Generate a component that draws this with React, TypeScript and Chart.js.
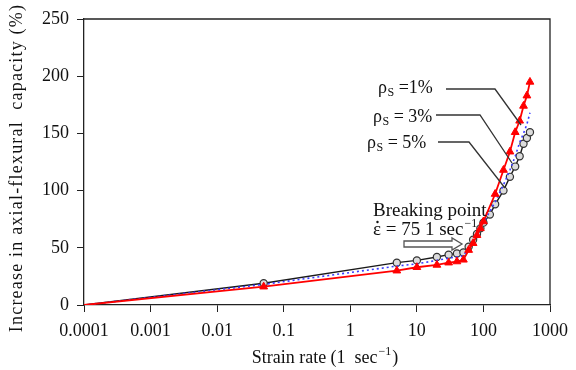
import React, { useEffect, useRef } from "react";
import { Chart, registerables } from "chart.js";

Chart.register(...registerables);

const xTickValues = [0.0001, 0.001, 0.01, 0.1, 1, 10, 100, 1000];
const yTickValues = [0, 50, 100, 150, 200, 250];

const rho1X = [0.0001, 0.05, 5, 10, 20, 30, 40, 50, 60, 70, 80, 90, 100, 150, 200, 250, 300, 350, 400, 450, 500];
const rho1Y = [0, 16, 30, 33, 35, 37, 38, 39.5, 48, 54, 61, 67, 73, 97, 118, 134, 151, 161, 174, 183, 195];

const rho3X = [0.0001, 0.05, 5, 10, 20, 30, 40, 50, 60, 70, 80, 90, 100, 150, 200, 250, 300, 350, 400, 450, 500];
const rho3Y = [0, 18, 34, 36, 39, 41, 42, 43, 50, 56, 62, 67, 72, 90, 105, 118, 130, 142, 150, 158, 168];

const rho5X = [0.0001, 0.05, 5, 10, 20, 30, 40, 50, 60, 70, 80, 90, 100, 125, 150, 200, 250, 300, 350, 400, 450, 500];
const rho5Y = [0, 19, 37, 39, 42, 44, 45, 46, 51, 57, 62, 67, 72, 79, 88, 100, 112, 121, 130, 141, 146, 151];

const seriesLabels = ["1%", "3%", "5%"];
const yTitle = "Increase in axial-flexural  capacity (%)";
const xTitle = "Strain rate (1  sec";
const breakTitle = "Breaking point";
const breakSymbol = "ε";
const breakValue = " = 75 1 sec";

const SERIF = '"Liberation Serif", "Times New Roman", serif';

const toPoints = (xs: number[], ys: number[]) => xs.map((x, i) => ({ x, y: ys[i] }));

const annotationPlugin = {
  id: "annot",
  afterDraw(chart: any) {
    const ctx: CanvasRenderingContext2D = chart.ctx;
    const a = chart.chartArea;
    ctx.save();
    // box top & right
    ctx.strokeStyle = "#222";
    ctx.lineWidth = 1.3;
    ctx.beginPath();
    ctx.moveTo(a.left, a.top);
    ctx.lineTo(a.right, a.top);
    ctx.lineTo(a.right, a.bottom);
    ctx.stroke();

    // leader lines
    ctx.strokeStyle = "#333";
    ctx.lineWidth = 1.3;
    const leaders = [
      [[446, 89], [495, 89], [521, 125]],
      [[436, 115], [480, 115], [512, 163]],
      [[438, 142], [469, 142], [505, 188]],
    ];
    leaders.forEach((pts) => {
      ctx.beginPath();
      ctx.moveTo(pts[0][0], pts[0][1]);
      ctx.lineTo(pts[1][0], pts[1][1]);
      ctx.lineTo(pts[2][0], pts[2][1]);
      ctx.stroke();
    });

    // rho labels
    ctx.fillStyle = "#111";
    ctx.textBaseline = "alphabetic";
    ctx.textAlign = "left";
    const labelPos = [
      [378, 93, " =" + seriesLabels[0]],
      [373, 122, " = " + seriesLabels[1]],
      [367, 148, " = " + seriesLabels[2]],
    ];
    labelPos.forEach(([x, y, rest]: any) => {
      ctx.font = `18px ${SERIF}`;
      ctx.fillText("ρ", x, y);
      let cx = x + ctx.measureText("ρ").width + 0.5;
      ctx.font = `12px ${SERIF}`;
      ctx.fillText("S", cx, y + 3);
      cx += ctx.measureText("S").width;
      ctx.font = `18px ${SERIF}`;
      ctx.fillText(rest, cx, y);
    });

    // breaking point
    ctx.font = `19px ${SERIF}`;
    ctx.fillText(breakTitle, 373, 216);
    ctx.fillText(breakSymbol, 373, 235);
    const ew = ctx.measureText(breakSymbol).width;
    ctx.beginPath();
    ctx.arc(373 + ew / 2 + 0.5, 222, 1.2, 0, Math.PI * 2);
    ctx.fill();
    ctx.fillText(breakValue, 373 + ew, 235);
    const w = ctx.measureText(breakValue).width;
    ctx.font = `12px ${SERIF}`;
    ctx.fillText("−1", 373 + ew + w + 1, 227);

    // hollow arrow
    ctx.strokeStyle = "#555";
    ctx.fillStyle = "#fff";
    ctx.lineWidth = 1.3;
    ctx.beginPath();
    ctx.moveTo(404, 241);
    ctx.lineTo(452, 241);
    ctx.lineTo(452, 238);
    ctx.lineTo(462, 244);
    ctx.lineTo(452, 250);
    ctx.lineTo(452, 247);
    ctx.lineTo(404, 247);
    ctx.closePath();
    ctx.fill();
    ctx.stroke();

    // axis titles
    ctx.fillStyle = "#111";
    ctx.font = `18px ${SERIF}`;
    ctx.textAlign = "left";
    const tw = ctx.measureText(xTitle).width;
    ctx.font = `12px ${SERIF}`;
    const sw = ctx.measureText("−1").width;
    ctx.font = `18px ${SERIF}`;
    const cw = ctx.measureText(")").width;
    const total = tw + sw + cw + 2;
    const sx = 325 - total / 2;
    ctx.fillText(xTitle, sx, 363);
    ctx.font = `12px ${SERIF}`;
    ctx.fillText("−1", sx + tw + 1, 355);
    ctx.font = `18px ${SERIF}`;
    ctx.fillText(")", sx + tw + sw + 2, 363);

    ctx.translate(22, 168);
    ctx.rotate(-Math.PI / 2);
    ctx.textAlign = "center";
    ctx.textBaseline = "alphabetic";
    ctx.font = `18px ${SERIF}`;
    (ctx as any).letterSpacing = "1.2px";
    ctx.fillText(yTitle, 0, 0);
    (ctx as any).letterSpacing = "0px";
    ctx.restore();
  },
};

export default function App() {
  const ref = useRef<HTMLCanvasElement>(null);
  useEffect(() => {
    document.body.style.margin = "0";
    const chart = new Chart(ref.current!, {
      type: "line",
      data: {
        datasets: [
          {
            label: "ρS = 1%",
            data: toPoints(rho1X, rho1Y),
            borderColor: "#ff0000",
            backgroundColor: "#ff0000",
            borderWidth: 1.8,
            pointStyle: "triangle",
            pointRadius: (c: any) => (c.dataIndex === 0 ? 0 : 4.5),
            pointBorderWidth: 1,
            tension: 0,
          },
          {
            label: "ρS = 3%",
            data: toPoints(rho3X, rho3Y),
            borderColor: "#3a3aff",
            backgroundColor: "#3a3aff",
            borderWidth: 1.6,
            borderDash: [2, 3],
            pointRadius: 0,
            tension: 0,
          },
          {
            label: "ρS = 5%",
            data: toPoints(rho5X, rho5Y),
            borderColor: "#1a1a1a",
            backgroundColor: "#dcdcdc",
            borderWidth: 1.4,
            pointStyle: "circle",
            pointRadius: (c: any) => (c.dataIndex === 0 ? 0 : 3.6),
            pointBorderColor: "#333",
            pointBorderWidth: 1.2,
            tension: 0,
          },
        ],
      },
      options: {
        animation: false,
        responsive: false,
        events: [],
        layout: { padding: { top: 19, right: 22, left: 0, bottom: 0 } },
        plugins: { legend: { display: false }, tooltip: { enabled: false } },
        scales: {
          x: {
            type: "logarithmic",
            min: 0.0001,
            max: 1000,
            afterBuildTicks: (s: any) => {
              s.ticks = xTickValues.map((v) => ({ value: v }));
            },
            afterFit: (s: any) => {
              s.height = 65;
            },
            ticks: {
              callback: (v: any) => String(Number(v)),
              font: { family: SERIF, size: 18 },
              color: "#111",
              padding: 8,
              maxRotation: 0,
              autoSkip: false,
            },
            grid: { drawOnChartArea: false, drawTicks: true, tickLength: 7, color: "#222" },
            border: { display: true, color: "#222", width: 1.3 },
          },
          y: {
            type: "linear",
            min: 0,
            max: 250,
            afterBuildTicks: (s: any) => {
              s.ticks = yTickValues.map((v) => ({ value: v }));
            },
            afterFit: (s: any) => {
              s.width = 84;
            },
            ticks: {
              font: { family: SERIF, size: 18 },
              color: "#111",
              padding: 8,
            },
            grid: { drawOnChartArea: false, drawTicks: true, tickLength: 7, color: "#222" },
            border: { display: true, color: "#222", width: 1.3 },
          },
        },
      },
      plugins: [annotationPlugin],
    });
    return () => chart.destroy();
  }, []);
  return (
    <div style={{ position: "absolute", left: 0, top: 0, width: 576, height: 370 }}>
      <canvas ref={ref} width={576} height={370} style={{ width: 576, height: 370, display: "block" }} />
    </div>
  );
}
